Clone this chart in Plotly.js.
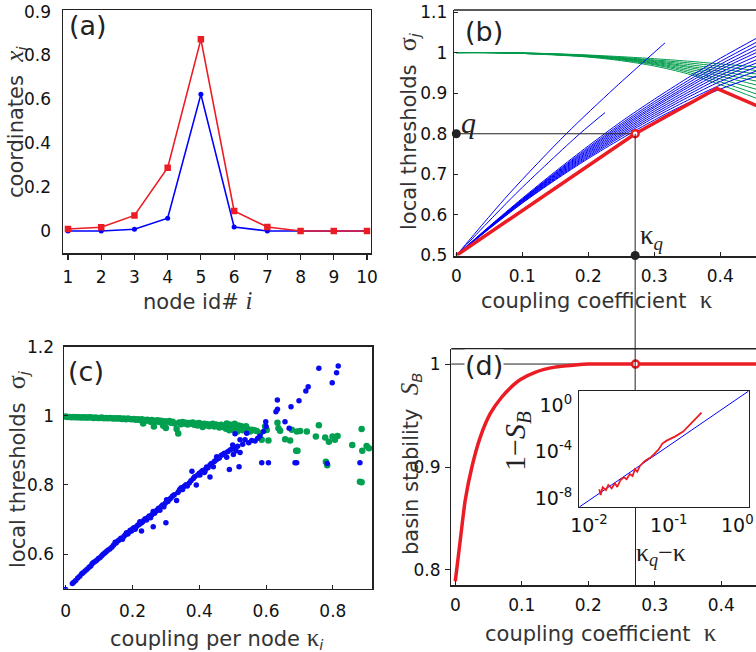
<!DOCTYPE html>
<html><head><meta charset="utf-8">
<script src="https://cdn.plot.ly/plotly-3.0.1.min.js"></script>
<style>html,body{margin:0;padding:0;background:#fff;overflow:hidden}</style>
</head><body><div id="chart" style="width:756px;height:652px"></div>
<script>
// ---------- panel (a) ----------
const nodeIds = [1,2,3,4,5,6,7,8,9,10];
const coordRed = [0.009,0.017,0.071,0.288,0.871,0.091,0.018,0.0,0.0,0.0];
const coordBlue = [0.0,0.0,0.008,0.058,0.621,0.018,0.0,0.0,0.0,0.0];
const coordTickVals = [0,0.2,0.4,0.6,0.8,0.995];
const coordTickText = ['0','0.2','0.4','0.6','0.8','0.9'];

// ---------- panel (b) ----------
const kappaGrid = [0,0.05,0.1,0.15,0.2,0.25,0.3,0.35,0.4,0.46];
const greenCurves = [
  [1,1,0.999,0.997,0.994,0.99,0.985,0.979,0.972,0.964],
  [1,1,0.999,0.997,0.993,0.988,0.982,0.975,0.966,0.955],
  [1,1,0.999,0.996,0.993,0.987,0.98,0.971,0.96,0.946],
  [1,1,0.999,0.996,0.992,0.986,0.978,0.967,0.954,0.937],
  [1,1,0.998,0.996,0.991,0.985,0.976,0.964,0.948,0.928],
  [1,1,0.998,0.995,0.991,0.984,0.974,0.96,0.942,0.918],
  [1,1,0.998,0.995,0.99,0.983,0.972,0.956,0.935,0.907],
  [1,1,0.998,0.995,0.99,0.982,0.97,0.952,0.928,0.895],
  [1,1,0.998,0.994,0.989,0.98,0.967,0.948,0.921,0.884]
];
const blueCurves = [
  [0.5,0.572,0.641,0.707,0.77,0.83,0.885,0.937,0.986,1.04],
  [0.5,0.571,0.639,0.704,0.766,0.825,0.879,0.93,0.978,1.03],
  [0.5,0.57,0.638,0.702,0.763,0.821,0.874,0.924,0.971,1.021],
  [0.5,0.57,0.637,0.70,0.76,0.817,0.869,0.918,0.964,1.012],
  [0.5,0.569,0.636,0.698,0.757,0.813,0.865,0.913,0.958,1.004],
  [0.5,0.569,0.635,0.696,0.754,0.809,0.86,0.907,0.951,0.995],
  [0.5,0.568,0.634,0.694,0.751,0.805,0.855,0.901,0.944,0.986],
  [0.5,0.568,0.633,0.692,0.748,0.801,0.85,0.895,0.937,0.978],
  [0.5,0.567,0.631,0.69,0.745,0.797,0.845,0.889,0.929,0.968],
  [0.5,0.567,0.63,0.688,0.742,0.793,0.84,0.882,0.92,0.958],
  [0.5,0.566,0.629,0.686,0.739,0.788,0.834,0.875,0.91,0.945]
];
const steep1K = [0,0.08,0.1667,0.24,0.3162];
const steep1S = [0.5,0.652,0.8,0.913,1.024];
const steep2K = [0,0.09,0.187,0.2253];
const steep2S = [0.5,0.652,0.8,0.852];
const kappaQ = 0.271;
const qLevel = 0.8;
const envK = [0,0.1,0.2,kappaQ,0.3945,0.46];
const envS = [0.5,0.611,0.721,qLevel,0.9117,0.866];

// ---------- panel (c) ----------
const scatGreenK = [0,0.005,0.012,0.018,0.024,0.03,0.036,0.042,0.048,0.054,
 0.06,0.066,0.072,0.078,0.084,0.09,0.096,0.102,0.108,0.114,
 0.12,0.126,0.132,0.138,0.144,0.15,0.156,0.162,0.168,0.174,
 0.18,0.186,0.192,0.198,0.204,0.21,0.216,0.222,0.228,0.232,
 0.236,0.24,0.244,0.25,0.254,0.258,0.264,0.266,0.27,0.275,
 0.28,0.285,0.29,0.292,0.296,0.3,0.304,0.31,0.315,0.32,
 0.326,0.332,0.337,0.34,0.345,0.35,0.355,0.36,0.365,0.37,
 0.375,0.38,0.385,0.39,0.395,0.4,0.405,0.41,0.415,0.42,
 0.425,0.43,0.435,0.44,0.445,0.45,0.455,0.46,0.465,0.47,
 0.475,0.48,0.482,0.486,0.49,0.492,0.496,0.5,0.503,0.506,
 0.51,0.514,0.518,0.522,0.526,0.53,0.535,0.54,0.545,0.552,
 0.558,0.565,0.572,0.582,0.587,0.597,0.602,0.607,0.634,0.637,
 0.642,0.657,0.672,0.677,0.69,0.694,0.692,0.702,0.722,0.749,
 0.758,0.777,0.779,0.783,0.788,0.799,0.806,0.814,0.858,0.886,
 0.888,0.901,0.908,0.881,0.886];
const scatGreenS = [0.998,0.997,0.997,0.996,0.997,0.996,0.996,0.996,0.995,0.996,
 0.995,0.995,0.996,0.995,0.994,0.995,0.994,0.994,0.995,0.993,
 0.994,0.993,0.994,0.993,0.992,0.993,0.992,0.993,0.991,0.992,
 0.99,0.992,0.991,0.99,0.991,0.989,0.99,0.988,0.99,0.978,
 0.988,0.986,0.989,0.987,0.983,0.988,0.969,0.986,0.984,0.987,
 0.982,0.986,0.981,0.971,0.984,0.965,0.983,0.985,0.98,0.983,
 0.978,0.962,0.949,0.981,0.976,0.982,0.978,0.98,0.975,0.979,
 0.977,0.981,0.974,0.978,0.972,0.979,0.975,0.968,0.977,0.973,
 0.976,0.97,0.974,0.977,0.969,0.975,0.972,0.966,0.974,0.968,
 0.971,0.963,0.978,0.97,0.958,0.975,0.966,0.972,0.96,0.977,
 0.968,0.955,0.972,0.964,0.97,0.958,0.966,0.97,0.962,0.955,
 0.96,0.958,0.956,0.95,0.931,0.969,0.959,0.929,0.98,0.964,
 0.957,0.932,0.929,0.96,0.899,0.899,0.955,0.956,0.955,0.94,
 0.973,0.937,0.867,0.857,0.925,0.94,0.931,0.942,0.916,0.962,
 0.899,0.913,0.906,0.8095,0.808];
const scatBlueK = [0,0.02,0.024,0.03,0.036,0.042,0.048,0.052,0.058,0.064,
 0.07,0.075,0.079,0.083,0.088,0.093,0.098,0.103,0.108,0.112,
 0.117,0.121,0.126,0.132,0.138,0.143,0.148,0.151,0.156,0.16,
 0.165,0.17,0.174,0.178,0.182,0.186,0.19,0.193,0.197,0.2,
 0.204,0.208,0.212,0.216,0.22,0.222,0.226,0.227,0.23,0.234,
 0.238,0.242,0.246,0.25,0.254,0.258,0.262,0.262,0.266,0.27,
 0.274,0.278,0.282,0.286,0.29,0.294,0.298,0.3,0.302,0.306,
 0.31,0.315,0.32,0.325,0.332,0.336,0.34,0.342,0.346,0.35,
 0.355,0.36,0.364,0.37,0.375,0.378,0.382,0.386,0.391,0.395,
 0.4,0.402,0.406,0.41,0.415,0.417,0.42,0.422,0.426,0.432,
 0.432,0.436,0.442,0.445,0.45,0.452,0.455,0.46,0.465,0.47,
 0.475,0.482,0.485,0.49,0.492,0.498,0.5,0.502,0.505,0.507,
 0.51,0.515,0.519,0.522,0.522,0.53,0.537,0.542,0.548,0.557,
 0.567,0.575,0.582,0.592,0.587,0.607,0.599,0.6,0.6295,0.634,
 0.6337,0.6566,0.669,0.6746,0.6866,0.6916,0.6985,0.719,0.726,0.758,
 0.783,0.798,0.811,0.816,0.881];
const scatBlueS = [0.498,0.515,0.519,0.524,0.531,0.536,0.543,0.546,0.551,0.556,
 0.562,0.566,0.572,0.576,0.579,0.582,0.587,0.59,0.595,0.6,
 0.603,0.607,0.611,0.615,0.62,0.626,0.634,0.632,0.638,0.641,
 0.646,0.643,0.651,0.655,0.662,0.658,0.664,0.669,0.667,0.673,
 0.676,0.672,0.68,0.684,0.686,0.694,0.69,0.667,0.693,0.698,
 0.702,0.699,0.706,0.71,0.705,0.714,0.723,0.679,0.718,0.724,
 0.728,0.733,0.727,0.738,0.742,0.737,0.747,0.691,0.757,0.752,
 0.758,0.762,0.768,0.772,0.755,0.778,0.784,0.788,0.792,0.787,
 0.796,0.801,0.797,0.806,0.812,0.84,0.819,0.824,0.8,0.829,
 0.834,0.829,0.838,0.842,0.836,0.84,0.848,0.852,0.85,0.823,
 0.858,0.862,0.853,0.868,0.872,0.882,0.876,0.878,0.885,0.888,
 0.892,0.88,0.896,0.845,0.901,0.904,0.916,0.888,0.908,0.948,
 0.899,0.912,0.853,0.931,0.894,0.918,0.931,0.95,0.922,0.929,
 0.927,0.935,0.942,0.955,0.8645,0.8645,0.983,0.969,1.012,1.019,
 1.046,0.983,0.964,1.026,0.8645,0.8645,1.044,1.072,1.084,1.1375,
 0.862,1.096,1.125,1.144,0.8645];

// ---------- panel (d) ----------
const sbK = [0,0.0075,0.015,0.025,0.0376,0.0527,0.07,0.088,0.098,0.12,0.15,0.18,0.2,0.25,0.3,0.35,0.4,0.46];
const sbS = [0.789,0.829,0.868,0.900,0.929,0.952,0.968,0.980,0.985,0.992,0.997,0.999,1.0,1.0,1.0,1.0,1.0,1.0];
const insetDk = [0.01349,0.01402,0.01486,0.01637,0.0175,0.01927,0.0212,0.02265,0.02493,0.02744,
 0.02963,0.0326,0.0352,0.0377,0.0403,0.0435,0.0502,0.0609,0.0738,0.0837,0.094,0.1192,0.1514,0.1833,0.218,0.257];
const insetOneMinusSB = [5.9e-8,1.94e-8,8.8e-8,5.2e-8,1.4e-7,7.2e-8,1.94e-7,9.4e-8,3.75e-7,6.3e-7,
 4.3e-7,1.22e-6,8.2e-7,3.1e-6,1.94e-6,5.9e-6,1.59e-5,3.74e-5,1.39e-4,5.2e-4,8.8e-4,1.94e-3,5.2e-3,0.0194,0.0721,0.22];
const insetFitDk = [0.0076,1.0];
const insetFitVal = [1.8e-9,15.85];
const insetXTickVals = [0.01,0.1];
const insetXTickText = ['10<sup>-2</sup>','10<sup>-1</sup>'];
const insetXEndLabel = '10<sup>0</sup>';

// ---------- styling ----------
const RED = 'rgb(236,28,36)', BLUE = 'rgb(0,0,255)', GREEN = 'rgb(0,155,75)';
const TF = {family:'DejaVu Sans', size:17, color:'#111'};
const SER = "font-family:'Liberation Serif'";

const traces = [];
// (a)
traces.push({x:nodeIds, y:coordBlue, xaxis:'x', yaxis:'y', mode:'lines+markers',
  line:{color:BLUE,width:1.6}, marker:{color:BLUE,size:5,symbol:'circle'}});
traces.push({x:nodeIds, y:coordRed, xaxis:'x', yaxis:'y', mode:'lines+markers',
  line:{color:RED,width:1.6}, marker:{color:RED,size:6.5,symbol:'square'}});
// (b)
greenCurves.forEach(s => traces.push({x:kappaGrid, y:s, xaxis:'x2', yaxis:'y2', mode:'lines',
  line:{color:GREEN,width:1,shape:'spline',smoothing:0.8}}));
blueCurves.forEach(s => traces.push({x:kappaGrid, y:s, xaxis:'x2', yaxis:'y2', mode:'lines',
  line:{color:BLUE,width:1,shape:'spline',smoothing:0.8}}));
traces.push({x:steep1K, y:steep1S, xaxis:'x2', yaxis:'y2', mode:'lines', line:{color:BLUE,width:1,shape:'spline',smoothing:0.8}});
traces.push({x:steep2K, y:steep2S, xaxis:'x2', yaxis:'y2', mode:'lines', line:{color:BLUE,width:1,shape:'spline',smoothing:0.8}});
traces.push({x:[0,kappaQ], y:[qLevel,qLevel], xaxis:'x2', yaxis:'y2', mode:'lines', line:{color:'#222',width:1.2}});
traces.push({x:envK, y:envS, xaxis:'x2', yaxis:'y2', mode:'lines', line:{color:RED,width:3.5}});
traces.push({x:[0,kappaQ], y:[qLevel,0.5], xaxis:'x2', yaxis:'y2', mode:'markers', cliponaxis:false,
  marker:{color:'#222',size:9}});
traces.push({x:[kappaQ], y:[qLevel], xaxis:'x2', yaxis:'y2', mode:'markers', cliponaxis:false,
  marker:{color:'white',size:7,line:{color:RED,width:2.5}}});
// (c)
traces.push({x:scatGreenK, y:scatGreenS, xaxis:'x3', yaxis:'y3', mode:'markers',
  marker:{color:'rgb(0,160,80)',size:6.5}});
traces.push({x:scatBlueK, y:scatBlueS, xaxis:'x3', yaxis:'y3', mode:'markers',
  marker:{color:'rgb(10,10,240)',size:5.5}});
// (d)
traces.push({x:sbK, y:sbS, xaxis:'x4', yaxis:'y4', mode:'lines',
  line:{color:RED,width:3.5,shape:'spline',smoothing:0.6}});
traces.push({x:[kappaQ], y:[1], xaxis:'x4', yaxis:'y4', mode:'markers', cliponaxis:false,
  marker:{color:'white',size:7,line:{color:RED,width:2.5}}});
// inset
traces.push({x:insetFitDk, y:insetFitVal, xaxis:'x5', yaxis:'y5', mode:'lines', line:{color:BLUE,width:1}});
traces.push({x:insetDk, y:insetOneMinusSB, xaxis:'x5', yaxis:'y5', mode:'lines', line:{color:RED,width:1.8}});

function ax(o){ return Object.assign({showgrid:false, zeroline:false, showline:true, linecolor:'#222',
  linewidth:1.5, tickfont:TF, tickcolor:'#222', fixedrange:true}, o); }

const W = 756, H = 652;
const px = v => v / W, py = v => 1 - v / H;
const insetTF = {family:'DejaVu Sans', size:19, color:'#111'};

const layout = {
  width:W, height:H, margin:{l:0,r:0,t:0,b:0}, showlegend:false,
  paper_bgcolor:'white', plot_bgcolor:'rgba(0,0,0,0)', hovermode:false,
  xaxis: ax({domain:[px(63),px(370.7)], anchor:'y', range:[0.8495,10.111], tickvals:nodeIds,
    mirror:true, ticks:'outside', ticklen:5, tickwidth:1.2, ticklabelstandoff:3}),
  yaxis: ax({domain:[py(253),py(10)], anchor:'x', range:[-0.1,1.0045], tickvals:coordTickVals,
    ticktext:coordTickText, mirror:true, ticks:'', ticklabelstandoff:7}),
  xaxis2: ax({domain:[px(454),1], anchor:'y2', range:[-0.0035,0.4541], dtick:0.1, tick0:0,
    linewidth:2, ticks:'inside', ticklen:4, ticklabelstandoff:4}),
  yaxis2: ax({domain:[py(255.5),py(10)], anchor:'x2', range:[0.5,1.105], dtick:0.1, tick0:0.5,
    linewidth:1.3, ticks:'inside', ticklen:4, ticklabelstandoff:2}),
  xaxis3: ax({domain:[px(64),px(372.3)], anchor:'y3', range:[-0.0051,0.918], dtick:0.2, tick0:0,
    mirror:true, ticks:'inside', ticklen:4, ticklabelstandoff:6}),
  yaxis3: ax({domain:[py(588.7),py(346.7)], anchor:'x3', range:[0.5,1.2], dtick:0.2, tick0:0.6,
    mirror:true, ticks:'inside', ticklen:4, ticklabelstandoff:5}),
  xaxis4: ax({domain:[px(451.3),1], anchor:'y4', range:[-0.006,0.4522], dtick:0.1, tick0:0,
    linewidth:2, ticks:'inside', ticklen:4, ticklabelstandoff:4}),
  yaxis4: ax({domain:[py(585),py(348.7)], anchor:'x4', range:[0.7854,1.0149], tickvals:[0.8,0.9,1],
    linewidth:1.3, ticks:'outside', ticklen:5, ticklabelstandoff:1}),
  xaxis5: ax({domain:[px(579.3),px(748.7)], anchor:'y5', type:'log', range:[-2.12,0],
    tickvals:insetXTickVals, ticktext:insetXTickText,
    mirror:true, linewidth:1.3, ticks:'', ticklabelstandoff:1, tickfont:insetTF}),
  yaxis5: ax({domain:[py(507),py(391)], anchor:'x5', type:'log', range:[-8.745,1.2],
    tickvals:[1e-8,1e-4,1], ticktext:['10<sup>-8</sup>','10<sup>-4</sup>','10<sup>0</sup>'],
    mirror:true, linewidth:1.3, ticks:'', ticklabelstandoff:2, tickfont:insetTF}),
  shapes: [
    {type:'line', xref:'x2 domain', yref:'y2 domain', x0:0, x1:1, y0:1, y1:1, line:{color:'#222',width:1.5}},
    {type:'line', xref:'x4 domain', yref:'y4 domain', x0:0, x1:1, y0:1, y1:1, line:{color:'#222',width:1.5}},
    {type:'line', xref:'x4 domain', yref:'y4', x0:0, x1:1, y0:1, y1:1, layer:'below', line:{color:'#222',width:1}},
    {type:'line', xref:'x2', yref:'y2', x0:kappaQ, x1:kappaQ, y0:0.5, y1:qLevel, line:{color:'#222',width:1}},
    {type:'line', xref:'x2', yref:'paper', x0:kappaQ, x1:kappaQ, y0:py(391), y1:py(255.5), line:{color:'#222',width:1}},
    {type:'line', xref:'x4', yref:'paper', x0:kappaQ, x1:kappaQ, y0:py(585), y1:py(507), line:{color:'#222',width:1}}
  ],
  annotations: []
};

const titleFont = {family:'DejaVu Sans', size:21, color:'#333'};
function ann(text, x, y, extra){ return Object.assign({text, x, y, xref:'paper', yref:'paper', showarrow:false,
  xanchor:'center', yanchor:'middle', font:titleFont}, extra||{}); }
const labFont = {family:'DejaVu Sans', size:27, color:'#222'};
const A = layout.annotations;
A.push(ann('(a)', px(88), py(26), {font:labFont}));
A.push(ann('(b)', px(484), py(31), {font:labFont}));
A.push(ann('(c)', px(86), py(371), {font:labFont}));
A.push(ann('(d)', px(484), py(365), {font:labFont, bgcolor:'white', borderpad:0}));

A.push(ann(`node id# <span style="${SER};font-style:italic;font-size:25px">i</span>`, px(198), py(300)));
A.push(ann(`coordinates\u00a0 <span style="${SER};font-style:italic;font-size:25px">x</span><sub><i>i</i></sub>`, px(15), py(122), {textangle:-90}));
A.push(ann(`coupling coefficient\u00a0 <span style="${SER};font-size:25px">κ</span>`, px(597), py(299)));
A.push(ann(`local thresholds\u00a0 <span style="${SER};font-size:26px">σ</span><sub><i>j</i></sub>`, px(408), py(131), {textangle:-90}));
A.push(ann(`coupling per node <span style="${SER};font-size:25px">κ</span><sub><i>i</i></sub>`, px(217), py(638)));
A.push(ann(`local thresholds\u00a0 <span style="${SER};font-size:26px">σ</span><sub><i>j</i></sub>`, px(17), py(469), {textangle:-90}));
A.push(ann(`coupling coefficient\u00a0 <span style="${SER};font-size:25px">κ</span>`, px(601), py(632)));
A.push(ann(`basin stability\u00a0 <span style="${SER};font-style:italic;font-size:25px">S</span><sub><i>B</i></sub>`, px(410), py(464), {textangle:-90}));
A.push(ann(`1−<i>S</i><sub><i>B</i></sub>`, px(517), py(441), {textangle:-90, font:{family:'Liberation Serif', size:30, color:'#222'}}));
A.push(ann(`κ<sub><i>q</i></sub>−κ`, px(661), py(554), {font:{family:'Liberation Serif', size:26, color:'#222'}}));
A.push(ann(insetXEndLabel, px(737), py(524), {font:insetTF}));
A.push({text:'<i>q</i>', x:0.019, y:0.829, xref:'x2', yref:'y2', showarrow:false, xanchor:'center', yanchor:'middle',
  font:{family:'Liberation Serif', size:30, color:'#222'}});
A.push({text:'κ<sub><i>q</i></sub>', x:0.296, y:0.545, xref:'x2', yref:'y2', showarrow:false, xanchor:'center', yanchor:'middle',
  font:{family:'Liberation Serif', size:27, color:'#222'}});

Plotly.newPlot('chart', traces, layout, {staticPlot:true, displayModeBar:false});
</script></body></html>
